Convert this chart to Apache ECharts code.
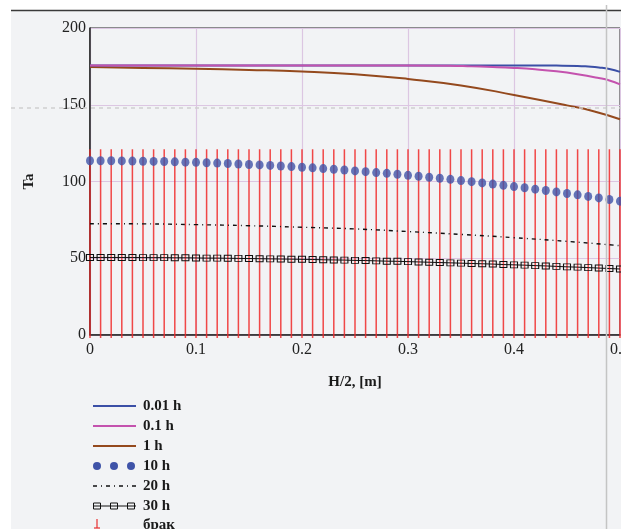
<!DOCTYPE html>
<html>
<head>
<meta charset="utf-8">
<script src="https://cdn.jsdelivr.net/npm/echarts@6/dist/echarts.min.js"></script>
<style>
html,body{margin:0;padding:0;background:#fff;}
#c{width:621px;height:529px;}
</style>
</head>
<body>
<div id="c"></div>
<script>
// ---- data ----
const xFine = [0,0.01,0.02,0.03,0.04,0.05,0.06,0.07,0.08,0.09,0.1,0.11,0.12,0.13,0.14,0.15,0.16,0.17,0.18,0.19,0.2,0.21,0.22,0.23,0.24,0.25,0.26,0.27,0.28,0.29,0.3,0.31,0.32,0.33,0.34,0.35,0.36,0.37,0.38,0.39,0.4,0.41,0.42,0.43,0.44,0.45,0.46,0.47,0.48,0.49,0.5];
const t10h = [113.5,113.5,113.5,113.4,113.3,113.2,113.1,113.0,112.8,112.6,112.5,112.2,112.0,111.7,111.4,111.1,110.8,110.5,110.1,109.7,109.3,108.9,108.4,108.0,107.5,106.9,106.4,105.8,105.3,104.7,104.0,103.4,102.8,102.1,101.4,100.6,99.9,99.1,98.3,97.5,96.7,95.9,95.0,94.1,93.2,92.2,91.3,90.3,89.3,88.3,87.2];
const t30h = [50.5,50.5,50.5,50.5,50.5,50.4,50.4,50.4,50.3,50.3,50.2,50.1,50.1,50.0,49.9,49.8,49.7,49.6,49.5,49.4,49.3,49.2,49.0,48.9,48.8,48.6,48.5,48.3,48.1,48.0,47.8,47.6,47.4,47.2,47.0,46.8,46.6,46.4,46.2,45.9,45.7,45.5,45.2,45.0,44.7,44.4,44.2,43.9,43.6,43.3,43.0];
const rejectTop = [121,121,121,121,121,121,121,121,121,121,121,121,121,121,121,121,121,121,121,121,121,121,121,121,121,121,121,121,121,121,121,121,121,121,121,121,121,121,121,121,121,121,121,121,121,121,121,121,121,121,121];

const x001h = [0,0.1,0.2,0.3,0.4,0.44,0.46,0.47,0.48,0.49,0.5];
const t001h = [175.6,175.6,175.6,175.6,175.6,175.5,175.3,174.9,174.3,173.3,171.4];

const x01h = [0,0.1,0.2,0.3,0.34,0.36,0.38,0.4,0.42,0.44,0.46,0.48,0.49,0.5];
const t01h = [175.6,175.6,175.6,175.6,175.4,175.0,174.6,174.0,173.1,171.8,169.9,167.4,165.8,163.3];

const x1h = [0,0.05,0.1,0.15,0.2,0.25,0.3,0.35,0.4,0.45,0.475,0.5];
const t1h = [174.6,174.0,173.4,172.7,171.7,169.9,166.8,162.6,156.4,149.6,145.8,140.6];

const x20h = [0,0.05,0.1,0.15,0.2,0.25,0.3,0.35,0.4,0.45,0.5];
const t20h = [72.5,72.4,71.9,71.2,70.2,69.1,67.4,65.5,63.4,61.0,58.2];

const legendNames = ['0.01 h','0.1 h','1 h','10 h','20 h','30 h','брак'];
const yTicks = [0,50,100,150,200];
const xTicks = [0,0.1,0.2,0.3,0.4,0.5];

// ---- styles ----
const FONT = 'Liberation Serif';
const C_BLUE = '#3b4fa6', C_MAG = '#c452ae', C_BROWN = '#94491d', C_DOT = '#3f53a8', C_RED = 'rgba(240,40,40,0.85)';

const zip = (a,b) => a.map((v,i)=>[v,b[i]]);

const chart = echarts.init(document.getElementById('c'), null, {renderer:'canvas'});

function legendGraphics(){
  const g = [];
  const rowY = [406,426,446,466,486,506,525];
  const x0 = 93, x1 = 136, tx = 143;
  const lineRow = (y,color) => ({type:'line', shape:{x1:x0,y1:y,x2:x1,y2:y}, style:{stroke:color, lineWidth:2}, z:10});
  g.push(lineRow(rowY[0], C_BLUE));
  g.push(lineRow(rowY[1], C_MAG));
  g.push(lineRow(rowY[2], C_BROWN));
  [97,114,131].forEach(cx=>g.push({type:'circle', shape:{cx:cx, cy:rowY[3], r:4}, style:{fill:C_DOT}, z:10}));
  g.push({type:'line', shape:{x1:x0,y1:rowY[4],x2:x1,y2:rowY[4]}, style:{stroke:'#111', lineWidth:1.3, lineDash:[4,4,1,4]}, z:10});
  g.push({type:'line', shape:{x1:x0,y1:rowY[5],x2:x1,y2:rowY[5]}, style:{stroke:'#111', lineWidth:1}, z:10});
  [97,114,131].forEach(cx=>g.push({type:'rect', shape:{x:cx-3.5, y:rowY[5]-3, width:7, height:6}, style:{fill:'none', stroke:'#111', lineWidth:1}, z:11}));
  g.push({type:'line', shape:{x1:97,y1:rowY[6]-6,x2:97,y2:rowY[6]+3}, style:{stroke:'#e83030', lineWidth:1.2}, z:10});
  g.push({type:'line', shape:{x1:94,y1:rowY[6]+3,x2:100,y2:rowY[6]+3}, style:{stroke:'#e83030', lineWidth:1.2}, z:10});
  legendNames.forEach((n,i)=>{
    g.push({type:'text', x:tx, y:rowY[i], style:{text:n, font:'bold 15px "'+FONT+'"', fill:'#1a1a1a', textVerticalAlign:'middle', textAlign:'left'}, z:10});
  });
  return g;
}

const option = {
  backgroundColor:'#f2f3f5',
  animation:false,
  grid:{left:90, right:1, top:28, bottom:194, containLabel:false, outerBoundsMode:'none',
        show:true, borderColor:'#222', borderWidth:1, backgroundColor:'transparent'},
  xAxis:{
    type:'value', min:0, max:0.5, interval:0.1,
    name:'H/2, [m]', nameLocation:'middle', nameGap:40,
    nameTextStyle:{fontFamily:FONT, fontWeight:'bold', fontSize:15, color:'#1a1a1a'},
    axisLine:{show:true, onZero:false, lineStyle:{color:'#222', width:1.5}},
    axisTick:{show:false},
    axisLabel:{fontFamily:FONT, fontSize:16, color:'#222', margin:7, showMaxLabel:true, hideOverlap:false,
      formatter:v=>{ const t = xTicks.find(k=>Math.abs(k-v)<1e-9); return t===undefined? '' : String(t); }},
    splitLine:{show:true, lineStyle:{color:'#dcc6e2', width:1.2}}
  },
  yAxis:{
    type:'value', min:0, max:200, interval:50,
    name:'Ta', nameLocation:'middle', nameGap:53,
    nameTextStyle:{fontFamily:FONT, fontWeight:'bold', fontSize:15, color:'#1a1a1a'},
    axisLine:{show:true, lineStyle:{color:'#222', width:1.5}},
    axisTick:{show:false},
    axisLabel:{fontFamily:FONT, fontSize:16, color:'#222', margin:4,
      formatter:v=>{ const t = yTicks.find(k=>k===v); return t===undefined? '' : String(t); }},
    splitLine:{show:true, lineStyle:{color:'#dcc6e2', width:1.2}}
  },
  series:[
    {
      name:'брак', type:'custom', clip:false, z:2,
      data: zip(xFine, rejectTop),
      renderItem:(params, api)=>{
        const p0 = api.coord([api.value(0), 0]);
        const p1 = api.coord([api.value(0), api.value(1)]);
        return {type:'line', shape:{x1:p0[0], y1:p0[1]+3, x2:p1[0], y2:p1[1]}, style:{stroke:C_RED, lineWidth:1.5}};
      }
    },
    {name:'1 h', type:'line', z:3, data:zip(x1h,t1h), showSymbol:false, smooth:true, lineStyle:{color:C_BROWN, width:2}, itemStyle:{color:C_BROWN}},
    {name:'0.01 h', type:'line', z:4, data:zip(x001h,t001h), showSymbol:false, smooth:true, lineStyle:{color:C_BLUE, width:2}, itemStyle:{color:C_BLUE}},
    {name:'0.1 h', type:'line', z:5, data:zip(x01h,t01h), showSymbol:false, smooth:true, lineStyle:{color:C_MAG, width:2}, itemStyle:{color:C_MAG}},
    {name:'20 h', type:'line', z:6, data:zip(x20h,t20h), showSymbol:false, smooth:true, lineStyle:{color:'#111', width:1.4, type:[4,4,1,4]}, itemStyle:{color:'#111'}},
    {name:'30 h', type:'line', z:7, data:zip(xFine,t30h), showSymbol:true, symbol:'rect', symbolSize:[7,6],
      lineStyle:{color:'#111', width:1}, itemStyle:{color:'rgba(0,0,0,0)', borderColor:'#111', borderWidth:1}},
    {name:'10 h', type:'scatter', z:8, data:zip(xFine,t10h), symbol:'circle', symbolSize:[8,9], itemStyle:{color:C_DOT}}
  ],
  graphic:[
    {type:'rect', shape:{x:0,y:0,width:621,height:10}, style:{fill:'#ffffff'}, z:-1, silent:true},
    {type:'rect', shape:{x:0,y:0,width:11,height:529}, style:{fill:'#ffffff'}, z:-1, silent:true},
    {type:'line', shape:{x1:11,y1:10.5,x2:621,y2:10.5}, style:{stroke:'#3a3a3a', lineWidth:1.5}, z:20, silent:true},
    {type:'line', shape:{x1:11,y1:108,x2:621,y2:108}, style:{stroke:'#cfcfcf', lineWidth:1.5, lineDash:[4,4]}, z:20, silent:true},
    {type:'line', shape:{x1:606.5,y1:5,x2:606.5,y2:529}, style:{stroke:'#c4c4c4', lineWidth:1.5}, z:20, silent:true}
  ].concat(legendGraphics())
};
chart.setOption(option);
</script>
</body>
</html>
